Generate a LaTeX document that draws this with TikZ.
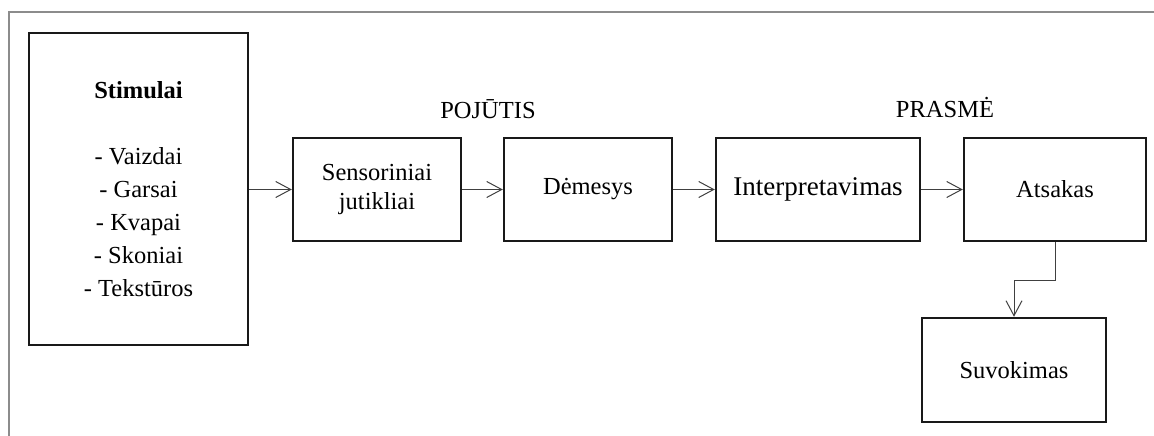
\documentclass[tikz,border=0pt]{standalone}
\usepackage{fontspec}
\setmainfont{Liberation Serif}
\usetikzlibrary{arrows.meta}
\tikzset{
  box/.style={draw=black!90, line width=2.5pt, inner sep=0pt, align=center,
    font=\fontsize{24.5}{29}\selectfont},
  arr/.style={draw=black!75, line width=1pt, -{Straight Barb[length=15pt,width=16pt,line width=1pt]}},
  lbl/.style={inner sep=0pt, font=\fontsize{24.5}{29}\selectfont},
  frame/.style={draw=black!45, line width=2pt}
}
\begin{document}
\begin{tikzpicture}[x=1pt,y=-1pt]
\useasboundingbox (0,0) rectangle (1154,436);
\draw[frame] (8.5,436) -- (8.5,12.5) -- (1154,12.5);

\node[box, minimum width=219, minimum height=312, font=\fontsize{24.5}{33}\selectfont] (stim) at (138.5,189)
  {\textbf{Stimulai}\\[33pt] - Vaizdai\\ - Garsai\\ - Kvapai\\ - Skoniai\\ - Tekstūros};
\node[box, minimum width=168, minimum height=103] (sens) at (377,189.5) {Sensoriniai\\jutikliai};
\node[box, minimum width=168, minimum height=103] (dem) at (588,189.5) {Dėmesys};
\node[box, minimum width=204, minimum height=103, font=\fontsize{27}{30}\selectfont] (int) at (818,189.5) {Interpretavimas};
\node[box, minimum width=182, minimum height=103] (ats) at (1055,189.5) {Atsakas};
\node[box, minimum width=184, minimum height=104] (suv) at (1014,370) {Suvokimas};

\node[lbl] (poj) at (488,109) {POJŪTIS};
\node[lbl] (pras) at (945,108) {PRASMĖ};

\draw[arr] (stim.east |- sens.west) -- (sens.west);
\draw[arr] (sens.east) -- (dem.west);
\draw[arr] (dem.east) -- (int.west);
\draw[arr] (int.east) -- (ats.west);
\draw[arr] (ats.south) -- ++(0,38) -| (suv.north);
\end{tikzpicture}
\end{document}
